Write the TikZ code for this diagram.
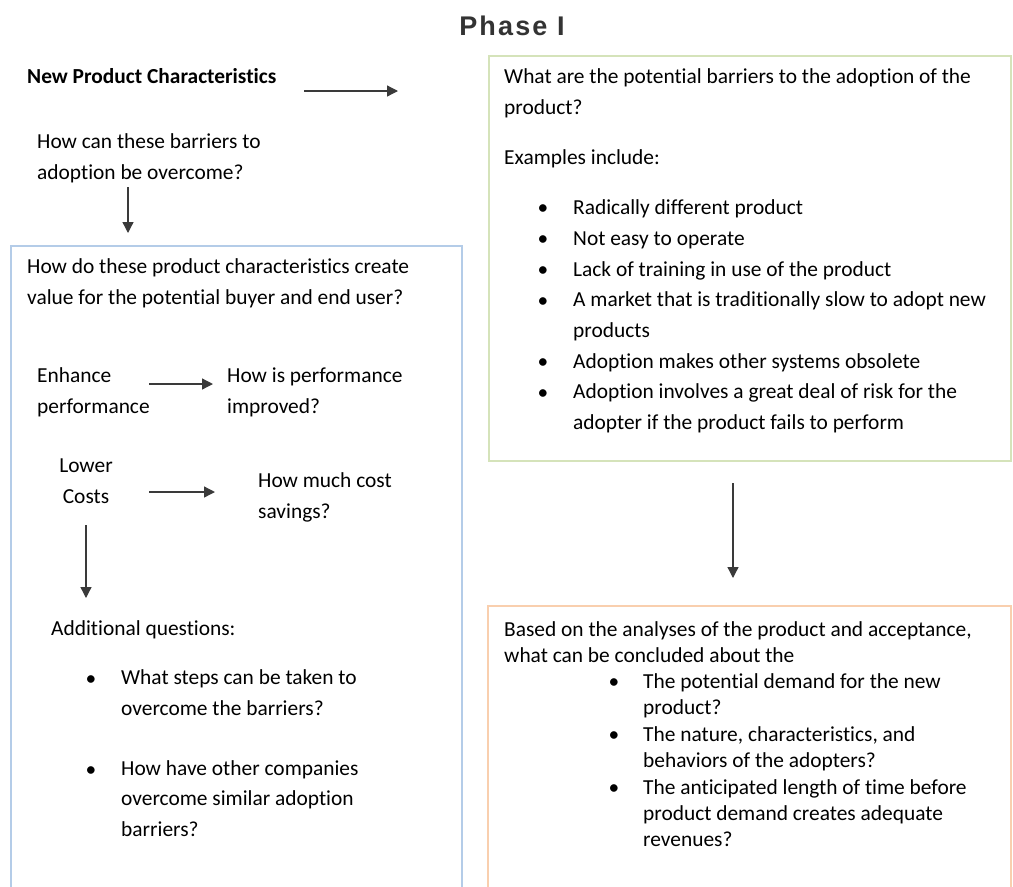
\documentclass[tikz,border=0pt]{standalone}
\usepackage{fontspec}
\setmainfont[Ligatures=NoCommon]{Carlito}
\newfontfamily\titlefont[LetterSpace=8]{Liberation Sans}
\usetikzlibrary{arrows.meta}
\definecolor{boxblue}{HTML}{B4CCE8}
\definecolor{boxgreen}{HTML}{D5E3BA}
\definecolor{boxorange}{HTML}{F9CFAE}
\definecolor{arrowgray}{HTML}{3A3A3A}
\newcommand{\bodyfont}{\fontsize{21.4}{30.5}\selectfont}
\newcommand{\tightfont}{\fontsize{21.4}{26}\selectfont}
% multi-line nodes are anchored at the baseline of their last line
\tikzset{
  x=1pt, y=-1pt,
  txt/.style={anchor=base west, align=left, inner sep=0pt, font=\bodyfont},
  ctxt/.style={anchor=base, align=center, inner sep=0pt, font=\bodyfont},
  tight/.style={anchor=base west, align=left, inner sep=0pt, font=\tightfont},
  bul/.style={anchor=base, inner sep=0pt, font=\bodyfont},
  frame/.style={line width=1.8pt},
  flow/.style={draw=arrowgray, line width=1.3pt, -{Triangle[length=11pt,width=11pt]}},
}
\begin{document}
\begin{tikzpicture}
\useasboundingbox (0,0) rectangle (1013,887);
\clip (0,0) rectangle (1013,887);

% title
\node[inner sep=0pt, font=\titlefont\bfseries\fontsize{27}{30}\selectfont, text=black!80] (title) at (512,26) {Phase I};

% frames
\draw[frame, draw=boxblue] (11,897) |- (462,246) -- (462,897);
\draw[frame, draw=boxgreen] (489,56) rectangle (1011,461);
\draw[frame, draw=boxorange] (488,897) |- (1011,606) -- (1011,897);

% top left
\node[txt, font=\bodyfont\bfseries] (npc) at (27,83) {New Product Characteristics};
\coordinate (npcA) at (304,91);
\coordinate (npcB) at (398,91);
\draw[flow] (npcA) -- (npcB);

\node[txt] (overcome) at (37,179) {How can these barriers to\\adoption be overcome?};
\coordinate (ovA) at (128,187);
\coordinate (ovB) at (128,233);
\draw[flow] (ovA) -- (ovB);

% blue frame contents
\node[txt] (value) at (27,304) {How do these product characteristics create\\value for the potential buyer and end user?};

\node[txt] (enh) at (37,413) {Enhance\\performance};
\node[txt] (perf) at (227,413) {How is performance\\improved?};
\coordinate (enA) at (149,384);
\coordinate (enB) at (213,384);
\draw[flow] (enA) -- (enB);

\node[ctxt] (lower) at (86,503) {Lower\\Costs};
\node[txt] (cost) at (258,518) {How much cost\\savings?};
\coordinate (loA) at (149,492);
\coordinate (loB) at (215,492);
\draw[flow] (loA) -- (loB);
\coordinate (dnA) at (86,525);
\coordinate (dnB) at (86,598);
\draw[flow] (dnA) -- (dnB);

\node[txt] (addq) at (51,635) {Additional questions:};
\node[bul] (b1) at (91,685) {•};
\node[txt] (q1) at (121,715) {What steps can be taken to\\overcome the barriers?};
\node[bul] (b2) at (91,776) {•};
\node[txt] (q2) at (121,836) {How have other companies\\overcome similar adoption\\barriers?};

% green frame contents
\node[txt] (barriers) at (504,114) {What are the potential barriers to the adoption of the\\product?};
\node[txt] (examples) at (504,164) {Examples include:};
\node[bul] (g1) at (543,214) {•};
\node[txt] (e1) at (573,214) {Radically different product};
\node[bul] (g2) at (543,245) {•};
\node[txt] (e2) at (573,245) {Not easy to operate};
\node[bul] (g3) at (543,276) {•};
\node[txt] (e3) at (573,276) {Lack of training in use of the product};
\node[bul] (g4) at (543,307) {•};
\node[txt] (e4) at (573,337) {A market that is traditionally slow to adopt new\\products};
\node[bul] (g5) at (543,368) {•};
\node[txt] (e5) at (573,368) {Adoption makes other systems obsolete};
\node[bul] (g6) at (543,399) {•};
\node[txt] (e6) at (573,429) {Adoption involves a great deal of risk for the\\adopter if the product fails to perform};

\coordinate (grA) at (733,483);
\coordinate (grB) at (733,578);
\draw[flow] (grA) -- (grB);

% orange frame contents
\node[tight] (based) at (504,662) {Based on the analyses of the product and acceptance,\\what can be concluded about the};
\node[bul] (o1) at (614,688) {•};
\node[tight] (c1) at (643,714) {The potential demand for the new\\product?};
\node[bul] (o2) at (614,741) {•};
\node[tight] (c2) at (643,767) {The nature, characteristics, and\\behaviors of the adopters?};
\node[bul] (o3) at (614,794) {•};
\node[tight] (c3) at (643,846) {The anticipated length of time before\\product demand creates adequate\\revenues?};
\end{tikzpicture}
\end{document}
